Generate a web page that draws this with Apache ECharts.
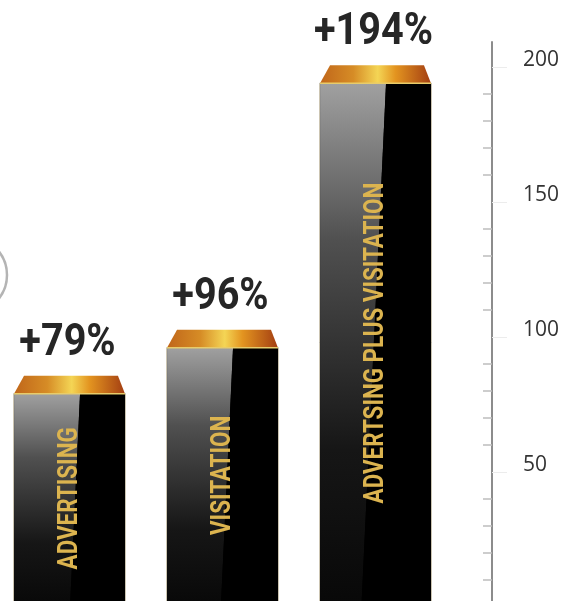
<!DOCTYPE html>
<html>
<head>
<meta charset="utf-8">
<script src="https://cdn.jsdelivr.net/npm/echarts@6/dist/echarts.min.js"></script>
<style>html,body{margin:0;padding:0;background:#fff}#c{width:586px;height:601px}</style>
</head>
<body>
<div id="c"></div>
<script>
const categories = ['ADVERTISING', 'VISITATION', 'ADVERTSING PLUS VISITATION'];
const values = [79, 96, 194];
const majorTicks = [50, 100, 150, 200];
const minorTicks = [10, 20, 30, 40, 60, 70, 80, 90, 110, 120, 130, 140, 160, 170, 180, 190];

const chart = echarts.init(document.getElementById('c'), null, {renderer: 'canvas'});

function renderItem(params, api) {
  const v = api.value(1);
  const top = api.coord([api.value(0), v]);
  const base = api.coord([api.value(0), 0]);
  const bw = api.size([1, 0])[0] * 0.725;
  const cx = top[0];
  const L = cx - bw / 2, R = cx + bw / 2;
  const yT = top[1], yB = base[1];
  const sT = L + bw * 0.595;
  const sB = sT - 0.047 * (yB - yT);
  const capH = 18;
  const name = categories[params.dataIndex];
  return {
    type: 'group',
    children: [
      {type: 'rect', shape: {x: L - 0.5, y: yT, width: bw + 1, height: yB - yT},
       style: {fill: '#000', stroke: '#cfc8b4', lineWidth: 1}},
      {type: 'polygon', shape: {points: [[L, yT], [sT, yT], [sB, yB], [L, yB]]},
       style: {fill: new echarts.graphic.LinearGradient(0, 0, 0, 1, [
         {offset: 0, color: '#a0a0a0'},
         {offset: 0.3, color: '#505050'},
         {offset: 0.7, color: '#161616'},
         {offset: 1, color: '#080808'}])}},
      {type: 'polygon', shape: {points: [[sT, yT], [R, yT], [R, yB], [sB, yB]]},
       style: {fill: '#000'}},
      {type: 'polygon', shape: {points: [[L, yT], [R, yT], [R - 7, yT - capH], [L + 10, yT - capH]]},
       style: {fill: new echarts.graphic.LinearGradient(0, 0, 1, 0, [
         {offset: 0, color: '#c0661a'},
         {offset: 0.3, color: '#d68c26'},
         {offset: 0.52, color: '#f4d555'},
         {offset: 0.68, color: '#e39420'},
         {offset: 1, color: '#a33e12'}])}},
      {type: 'line', shape: {x1: L, y1: yT, x2: R, y2: yT},
       style: {stroke: '#e8cc6a', lineWidth: 1.5}},
      {type: 'text', x: cx, y: (yT + yB) / 2 - 2, rotation: Math.PI / 2, scaleX: 0.8,
       style: {text: name, fill: '#dcb44f', font: 'bold 28px Roboto',
               align: 'center', verticalAlign: 'middle'}},
      {type: 'text', x: cx - 2, y: yT - capH - 10, scaleX: 0.9,
       style: {text: '+' + v + '%', fill: '#262626', font: 'bold 44px Roboto',
               align: 'center', verticalAlign: 'bottom'}}
    ]
  };
}

chart.setOption({
  animation: false,
  backgroundColor: '#fff',
  graphic: [{type: 'circle', shape: {cx: -31, cy: 275, r: 38},
             style: {fill: 'none', stroke: '#b4b4b4', lineWidth: 2.5}}],
  grid: {left: -7, width: 459, top: 42, height: 565, outerBoundsMode: 'none', containLabel: false},
  xAxis: {type: 'category', data: categories, show: false},
  yAxis: [
    {type: 'value', min: 0, max: 209.26, position: 'right', offset: 40,
     axisLine: {show: true, lineStyle: {color: '#8c8c8c', width: 2}},
     splitLine: {show: false},
     axisTick: {show: true, customValues: majorTicks, inside: false, length: 15,
                lineStyle: {color: '#ececec', width: 1}},
     axisLabel: {show: true, customValues: majorTicks, margin: 31, fontSize: 21,
                 color: '#333', fontFamily: 'Open Sans', verticalAlign: 'bottom', lineHeight: 14}},
    {type: 'value', min: 0, max: 209.26, position: 'right', offset: 40,
     axisLine: {show: false}, splitLine: {show: false},
     axisLabel: {show: false},
     axisTick: {show: true, customValues: minorTicks, inside: true, length: 9,
                lineStyle: {color: '#bdbdbd', width: 1.5}}}
  ],
  series: [{
    type: 'custom',
    renderItem: renderItem,
    encode: {x: 0, y: 1},
    data: values.map((v, i) => [i, v])
  }]
});
</script>
</body>
</html>
